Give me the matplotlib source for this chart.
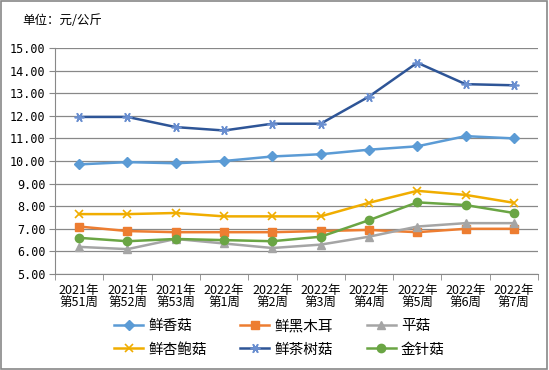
import matplotlib.pyplot as plt
from matplotlib.patches import Rectangle

plt.rcParams['font.family'] = ['Noto Sans CJK SC', 'DejaVu Sans']

weeks = ["2021年\n第51周", "2021年\n第52周", "2021年\n第53周", "2022年\n第1周",
         "2022年\n第2周", "2022年\n第3周", "2022年\n第4周", "2022年\n第5周",
         "2022年\n第6周", "2022年\n第7周"]

xianggu = [9.85, 9.95, 9.9, 10.0, 10.2, 10.3, 10.5, 10.65, 11.1, 11.0]
heimuer = [7.1, 6.9, 6.85, 6.85, 6.85, 6.9, 6.95, 6.85, 7.0, 7.0]
pinggu = [6.2, 6.1, 6.55, 6.35, 6.15, 6.3, 6.65, 7.1, 7.25, 7.25]
xingbaogu = [7.65, 7.65, 7.7, 7.55, 7.55, 7.55, 8.15, 8.68, 8.5, 8.15]
chashugu = [11.95, 11.95, 11.5, 11.35, 11.65, 11.65, 12.85, 14.35, 13.4, 13.35]
jinzhengu = [6.6, 6.45, 6.55, 6.5, 6.45, 6.65, 7.38, 8.17, 8.05, 7.7]

fig = plt.figure(figsize=(5.49, 3.70), dpi=100)
ax = fig.add_axes([55 / 549, 1 - 274 / 370, 483 / 549, 226 / 370])

x = range(len(weeks))
l1, = ax.plot(x, xianggu, color="#5B9BD5", marker="D", markersize=5, lw=1.8, label="鲜香菇")
l2, = ax.plot(x, heimuer, color="#ED7D31", marker="s", markersize=6, lw=1.8, label="鲜黑木耳")
l3, = ax.plot(x, pinggu, color="#A5A5A5", marker="^", markersize=6, lw=1.8, label="平菇")
l4, = ax.plot(x, xingbaogu, color="#F0AD00", marker="x", markersize=6, mew=1.2, lw=1.8, label="鲜杏鲍菇")
l5, = ax.plot(x, chashugu, color="#2E5597", marker=(6, 2, 90), markersize=7, mec="#6A8FD0", mew=1.2,
              lw=1.8, label="鲜茶树菇")
l6, = ax.plot(x, jinzhengu, color="#6AA544", marker="o", markersize=6, lw=1.8, label="金针菇")

ax.set_xlim(-0.5, len(weeks) - 0.5)
ax.set_ylim(5, 15)
ax.set_yticks(range(5, 16))
ax.set_yticklabels([f"{v:.2f}" for v in range(5, 16)], fontsize=8.5, family="DejaVu Sans Mono")
ax.set_xticks(list(x))
ax.set_xticklabels(weeks, fontsize=9, linespacing=1.05)
ax.set_xticks([i - 0.5 for i in range(len(weeks) + 1)], minor=True)
ax.tick_params(axis="x", which="major", length=0, pad=7)
ax.tick_params(axis="x", which="minor", length=4, color="#888888")
ax.tick_params(axis="y", length=4, color="#888888", pad=3)
ax.grid(axis="y", color="#888888", lw=0.9)
ax.set_axisbelow(True)
for s in ["top", "right"]:
    ax.spines[s].set_visible(False)
ax.spines["left"].set_color("#888888")
ax.spines["bottom"].set_color("#888888")

fig.text(22 / 549, 1 - 20 / 370, "单位：元/公斤", fontsize=9, va="center")

# legend fills column by column, so order handles to get rows like the original
handles = [l1, l4, l2, l5, l3, l6]
fig.legend(handles, [h.get_label() for h in handles], loc="center left",
           bbox_to_anchor=(114 / 549, 1 - 338 / 370), ncol=3, frameon=False,
           fontsize=10.5, handlelength=2.0, columnspacing=2.3, labelspacing=0.62,
           handletextpad=0.35, borderpad=0, borderaxespad=0)

fig.patches.append(Rectangle((0.002, 0.003), 0.995, 0.994, transform=fig.transFigure,
                             fill=False, edgecolor="#888888", lw=1.2))

fig.savefig("out.png", dpi=100)
